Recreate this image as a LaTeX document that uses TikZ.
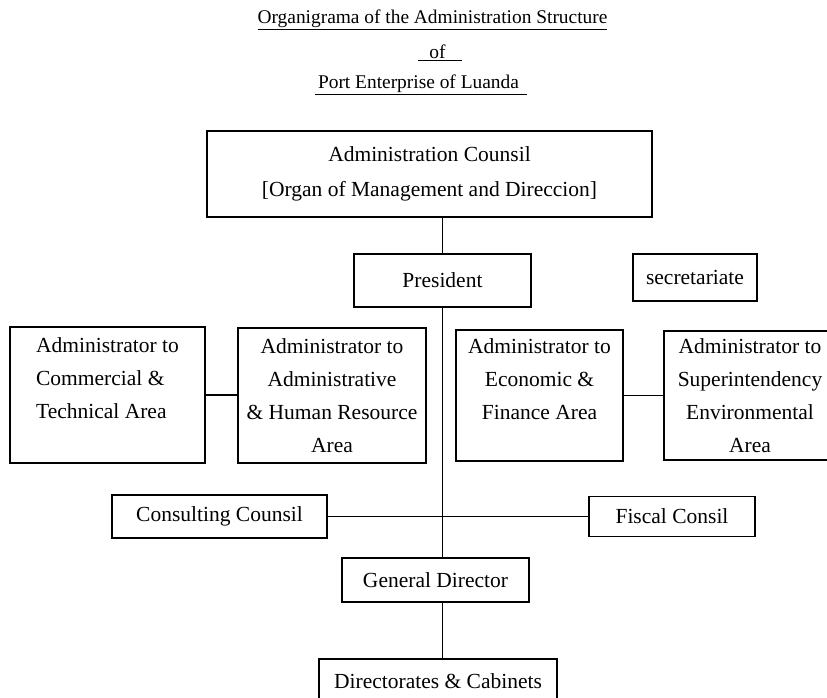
\documentclass[tikz,border=0pt]{standalone}
\usepackage{fontspec}
\setmainfont{Liberation Serif}
\usepackage{tikz}
\tikzset{orgbox/.style={draw, line width=1.6pt, inner sep=0pt, align=center}}
\tikzset{link/.style={line width=1.6pt}}
\tikzset{every node/.append style={font=\fontsize{21.5}{33}\selectfont}}
\tikzset{heading/.style={font=\fontsize{19.4}{33}\selectfont}}

\begin{document}
\begin{tikzpicture}[x=1pt,y=-1pt]
    \useasboundingbox (0,0) rectangle (827,697);
    \clip (0,0) rectangle (827,697);
    % heading
    \node[heading] (title1) at (432.5,20) {\underline{Organigrama of the Administration Structure}};
    \node[heading] (title2) at (440,53) {\underline{\hspace{11pt}of\hspace{16pt}}};
    \node[heading] (title3) at (421,85) {\underline{\hspace{3pt}Port Enterprise of Luanda\hspace{8pt}}};
    % boxes
    \node[orgbox, minimum width=445, minimum height=86, font=\fontsize{21.5}{35}\selectfont] (council) at (429.5,174) {Administration Counsil\\{[}Organ of Management and Direccion{]}};
    \node[orgbox, minimum width=177, minimum height=53] (president) at (442.5,280.5) {President};
    \node[orgbox, minimum width=124, minimum height=47] (secretariate) at (695,277.5) {secretariate};
    \node[orgbox, align=left, minimum width=195, minimum height=136] (commercial) at (107.5,395) {Administrator to\\Commercial \&\\Technical Area\\~};
    \node[orgbox, minimum width=188, minimum height=135] (administrative) at (332,395.5) {Administrator to\\Administrative\\\& Human Resource\\Area};
    \node[orgbox, minimum width=167, minimum height=131] (economic) at (539.5,395.5) {Administrator to\\Economic \&\\Finance Area\\~};
    \node[orgbox, minimum width=172, minimum height=129] (superintendency) at (750,395.5) {Administrator to\\Superintendency\\Environmental\\Area};
    \node[orgbox, minimum width=215, minimum height=43] (consulting) at (219.5,516.5) {Consulting Counsil};
    \node[orgbox, minimum width=166, minimum height=40] (fiscal) at (672,516.5) {Fiscal Consil};
    \node[orgbox, minimum width=187, minimum height=44] (gdirector) at (435.5,580) {General Director};
    \node[orgbox, minimum width=238, minimum height=44] (directorates) at (438,681) {Directorates \& Cabinets};
    % lines
    \draw[link] (president.north |- council.south) -- (president.north);
    \draw[link] (president.south) -- (president.south |- gdirector.north);
    \draw[link] (president.south |- gdirector.south) -- (president.south |- directorates.north);
    \draw[link] (commercial.east) -- (commercial.east -| administrative.west);
    \draw[link] (economic.east) -- (economic.east -| superintendency.west);
    \draw[link] (consulting.east) -- (consulting.east -| fiscal.west);
\end{tikzpicture}
\end{document}
